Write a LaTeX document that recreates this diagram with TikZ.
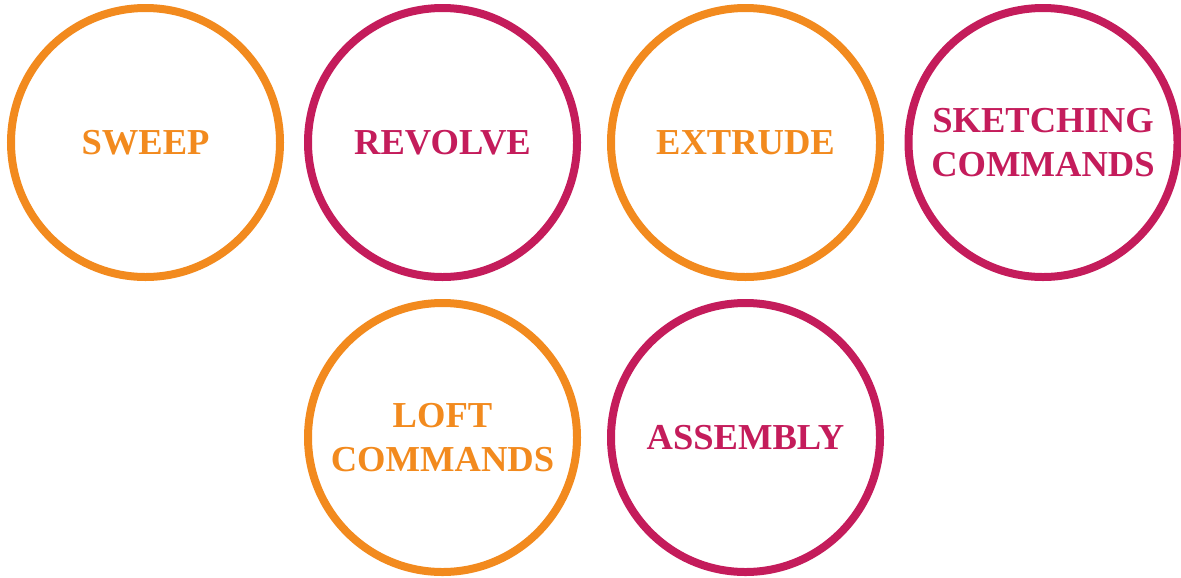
\documentclass[tikz,border=0pt]{standalone}
\usepackage{fontspec}
\setmainfont{Liberation Serif}
\usepackage{tikz}
\definecolor{ringA}{HTML}{F28A1E}
\definecolor{ringB}{HTML}{C41C5B}

\begin{document}
\begin{tikzpicture}[
  tool/.style={circle, draw, line width=0.08cm, minimum size=2.69cm, inner sep=0pt,
               align=center, font=\fontsize{10.4}{12.3}\selectfont\bfseries},
  toolA/.style={tool, draw=ringA, text=ringA},
  toolB/.style={tool, draw=ringB, text=ringB},
]

\useasboundingbox (0, 0) rectangle (11.81, -5.77);

\node[toolA] (sweep)    at (1.455, -1.425) {SWEEP};
\node[toolB] (revolve)  at (4.425, -1.425) {REVOLVE};
\node[toolA] (extrude)  at (7.455, -1.425) {EXTRUDE};
\node[toolB] (sketch)   at (10.43, -1.425) {SKETCHING\\COMMANDS};
\node[toolA] (loft)     at (4.425, -4.375) {LOFT\\COMMANDS};
\node[toolB] (assembly) at (7.455, -4.375) {ASSEMBLY};

\end{tikzpicture}
\end{document}
